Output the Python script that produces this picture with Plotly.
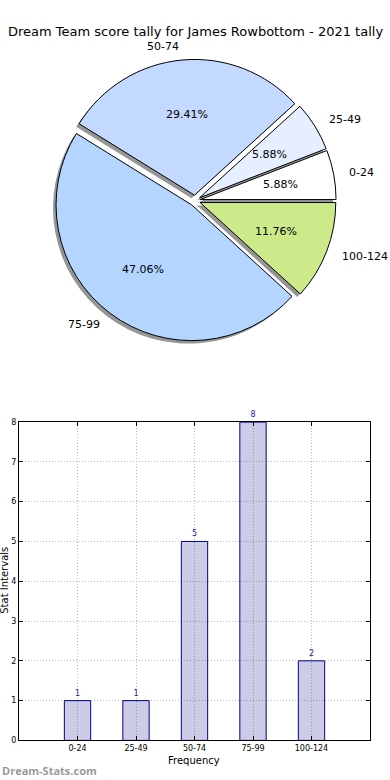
import math
import plotly.graph_objects as go

# ---- data ----
categories = ["0-24", "25-49", "50-74", "75-99", "100-124"]
counts = [1, 1, 5, 8, 2]
pie_colors = ["#ffffff", "#e6efff", "#c4d9ff", "#b3d5ff", "#cdea8a"]
title_text = "Dream Team score tally for James Rowbottom - 2021 tally"

W, H = 390, 780
R = 136          # pie radius in px
PULL = 0.04
CX, CY = 195, 199  # pie centre in px (from top)
SH = 3           # shadow offset px

total = sum(counts)
# plotly counterclockwise: first slice ends at `rotation`; we want it to start at 3 o'clock
ROT = 90 - 360 * counts[0] / total


def px(x):
    return x / W


def py(y):
    # small correction for observed vertical rendering offset
    y = (y - 2) / 0.9906
    return 1 - y / H


def pie_domain(dx=0, dy=0):
    half = R * (1 + PULL)
    return dict(x=[px(CX - half + dx), px(CX + half + dx)],
                y=[py(CY + half + dy), py(CY - half + dy)])


fig = go.Figure()

# shadow
fig.add_trace(go.Pie(
    labels=categories, values=counts, sort=False, direction="counterclockwise",
    rotation=ROT, pull=[PULL] * len(counts), domain=pie_domain(-SH, SH),
    marker=dict(colors=["rgba(80,80,80,0.6)"] * len(counts), line=dict(width=0)),
    textinfo="none", hoverinfo="skip", showlegend=False,
))
# main pie
fig.add_trace(go.Pie(
    labels=categories, values=counts, sort=False, direction="counterclockwise",
    rotation=ROT, pull=[PULL] * len(counts), domain=pie_domain(),
    marker=dict(colors=pie_colors, line=dict(color="#000000", width=1)),
    textinfo="none", hoverinfo="skip", showlegend=False,
))

annotations = []
cum = 0
for lab, v in zip(categories, counts):
    mid = (cum + v / 2) / total * 2 * math.pi
    cum += v
    c, s = math.cos(mid), math.sin(mid)
    r1 = (0.6 + PULL) * R
    annotations.append(dict(
        x=px(CX + r1 * c), y=py(CY - r1 * s), xref="paper", yref="paper",
        text=f"{v / total * 100:.2f}%", showarrow=False,
        font=dict(family="DejaVu Sans", size=11, color="#000000"),
        xanchor="center", yanchor="middle"))
    r2 = (1.1 + PULL) * R
    annotations.append(dict(
        x=px(CX + r2 * c), y=py(CY - r2 * s), xref="paper", yref="paper",
        text=lab, showarrow=False,
        font=dict(family="DejaVu Sans", size=11, color="#000000"),
        xanchor="left" if c > 0 else "right", yanchor="middle"))

# bar chart
fig.add_trace(go.Bar(
    x=categories, y=counts, width=0.45,
    marker=dict(color="rgba(0,0,128,0.2)", line=dict(color="#00008b", width=1)),
    text=[str(v) for v in counts], textposition="outside", cliponaxis=False,
    textfont=dict(family="DejaVu Sans", size=8, color="#1a1aa0"),
    hoverinfo="skip", showlegend=False, xaxis="x", yaxis="y",
))

axis_common = dict(
    showline=True, linecolor="#000000", linewidth=1, mirror="allticks",
    ticks="inside", ticklen=4, tickcolor="#000000",
    showgrid=True, gridcolor="#b8b8b8", griddash="1px,2px", gridwidth=1,
    zeroline=False, tickfont=dict(family="DejaVu Sans", size=8, color="#000000"),
)

annotations.append(dict(
    x=px(5), y=py(580), xref="paper", yref="paper", text="Stat Intervals",
    textangle=-90, showarrow=False, xanchor="center", yanchor="middle",
    font=dict(family="DejaVu Sans", size=10, color="#000000")))
annotations.append(dict(
    x=px(194), y=py(760), xref="paper", yref="paper", text="Frequency",
    showarrow=False, xanchor="center", yanchor="middle",
    font=dict(family="DejaVu Sans", size=10, color="#000000")))
annotations.append(dict(
    x=0, y=py(770), xref="paper", yref="paper", text="<b>Dream-Stats.com</b>",
    showarrow=False, xanchor="left", yanchor="middle",
    font=dict(family="Open Sans", size=11, color="#9a9a9a")))
annotations.append(dict(
    x=px(195), y=py(30), xref="paper", yref="paper", text=title_text,
    showarrow=False, xanchor="center", yanchor="middle",
    font=dict(family="DejaVu Sans", size=13, color="#000000")))

fig.update_layout(
    width=W, height=H, margin=dict(l=0, r=0, t=0, b=0),
    paper_bgcolor="#ffffff", plot_bgcolor="#ffffff",
    xaxis=dict(domain=[px(19), px(370)], range=[-1, 5], type="category",
               tickvals=categories, **axis_common),
    yaxis=dict(domain=[py(740), py(421)], range=[0, 8], dtick=1, **axis_common),
    annotations=annotations, showlegend=False, bargap=0,
)

fig.write_html(
    "out.html",
    config={"displayModeBar": False, "staticPlot": True},
    post_script="document.body.style.margin='0';document.body.style.overflow='hidden';",
)
